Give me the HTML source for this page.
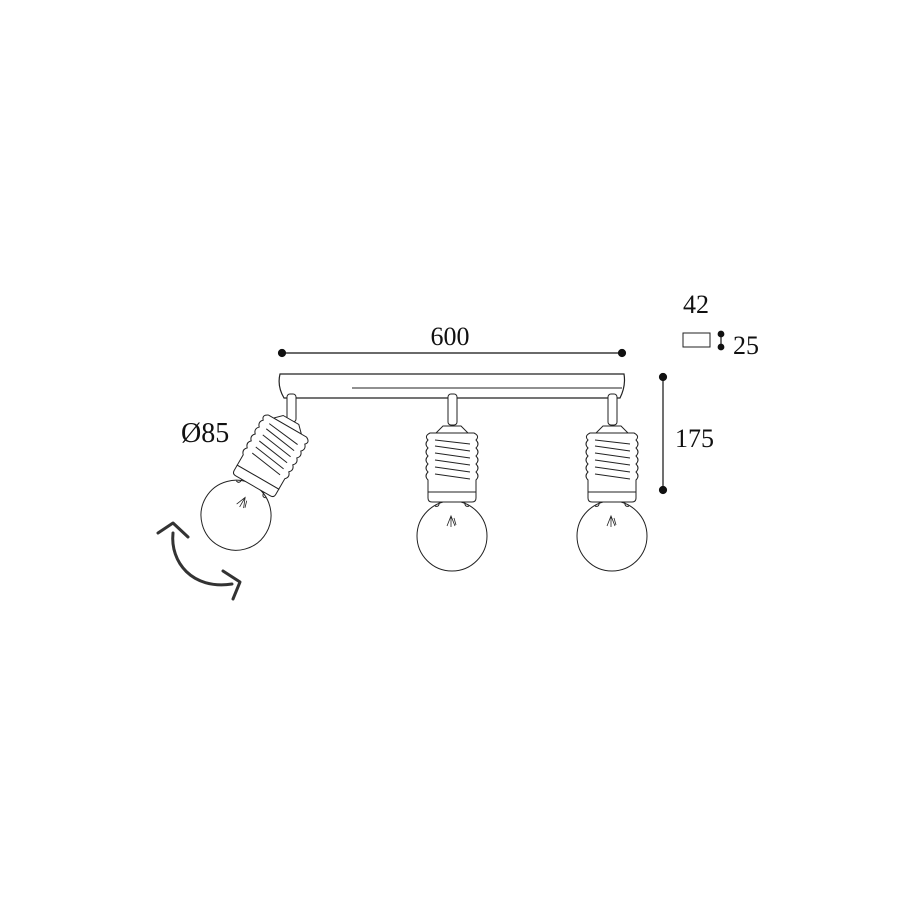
<!DOCTYPE html>
<html><head><meta charset="utf-8"><style>html,body{margin:0;padding:0;background:#fff}svg{display:block}</style></head>
<body>
<svg width="900" height="900" viewBox="0 0 900 900" xmlns="http://www.w3.org/2000/svg">
<defs>
<g id="lamp" fill="#fff" stroke="#222" stroke-width="1">
  <path d="M-9,0 L9,0 L16,7 L-16,7 Z"/>
  <circle cx="0" cy="110" r="35"/>
  <path d="M-13,74 Q-12,82 -17,80 M13,74 Q12,82 17,80" fill="none"/>
  <path d="M-22,7 L22,7 Q28,10 24,14 Q28,18 24,22 Q28,26 24,30 Q28,34 24,38 Q28,42 24,46 Q28,50 24,54 L24,66 L-24,66 L-24,54 Q-28,50 -24,46 Q-28,42 -24,38 Q-28,34 -24,30 Q-28,26 -24,22 Q-28,18 -24,14 Q-28,10 -22,7 Z"/>
  <path d="M-24,66 L24,66 L24,72 Q24,76 20,76 L-20,76 Q-24,76 -24,72 Z"/>
  <path d="M-17,14 L18,18 M-17,20 L18,25 M-17,27 L18,32 M-17,34 L18,39 M-17,41 L18,46 M-17,48 L18,53" fill="none"/>
  <path d="M-5,100 L-1,90 L3,100 M-1,90 L-1,101 M2,92 L4,99" fill="none" stroke-width="0.8"/>
</g>
</defs>
<path d="M280,374 L624,374 Q626,386 620,398 L284,398 Q277,386 280,374 Z" fill="#fff" stroke="#222" stroke-width="1.2"/>
<line x1="352" y1="388" x2="622" y2="388" stroke="#222" stroke-width="1"/>
<rect x="287" y="394" width="9" height="28" rx="3" fill="#fff" stroke="#222"/>
<rect x="448" y="394" width="9" height="31" rx="3" fill="#fff" stroke="#222"/>
<rect x="608" y="394" width="9" height="31" rx="3" fill="#fff" stroke="#222"/>
<use href="#lamp" transform="translate(452,426)"/>
<use href="#lamp" transform="translate(612,426)"/>
<use href="#lamp" transform="translate(291,420) rotate(30)"/>
<g fill="none" stroke="#333" stroke-width="3" stroke-linecap="round" stroke-linejoin="round">
  <path d="M158,533 L173,523 L188,537"/>
  <path d="M173,533 C170,562 192,590 232,584"/>
  <path d="M223,571 L240,582 L233,599"/>
</g>
<g stroke="#111" stroke-width="1.2" fill="#111">
  <line x1="282" y1="353" x2="622" y2="353"/>
  <circle cx="282" cy="353" r="3.5"/><circle cx="622" cy="353" r="3.5"/>
  <line x1="663" y1="377" x2="663" y2="490"/>
  <circle cx="663" cy="377" r="3.5"/><circle cx="663" cy="490" r="3.5"/>
  <line x1="721" y1="334" x2="721" y2="347"/>
  <circle cx="721" cy="334" r="2.8"/><circle cx="721" cy="347" r="2.8"/>
</g>
<rect x="683" y="333" width="27" height="14" fill="#fff" stroke="#222" stroke-width="1"/>
<g font-family="Liberation Serif, serif" font-size="26" fill="#111">
  <text x="450" y="345" text-anchor="middle">600</text>
  <text x="675" y="447">175</text>
  <text x="683" y="313">42</text>
  <text x="733" y="354">25</text>
  <text x="181" y="442" font-size="28">Ø85</text>
</g>
</svg>
</body></html>
